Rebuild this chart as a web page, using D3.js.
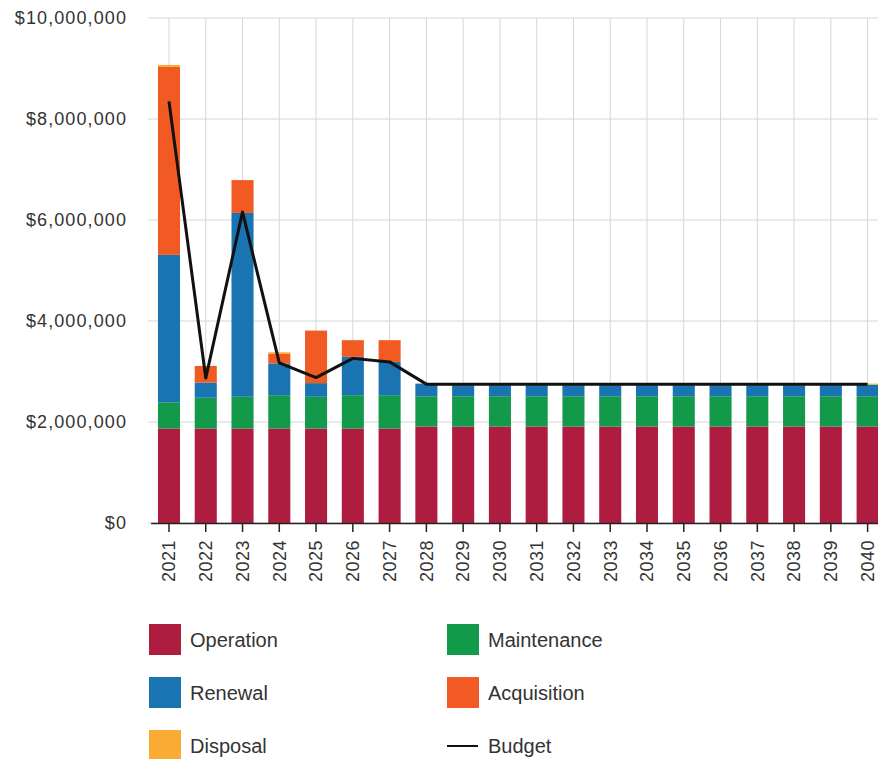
<!DOCTYPE html>
<html lang="en">
<head>
<meta charset="UTF-8">
<title>Lifecycle costs</title>
<script src="https://d3js.org/d3.v7.min.js"></script>
<style>
  html, body { margin: 0; background: #fff; overflow: hidden; }
  text { font-family: "Liberation Sans", Arial, sans-serif; fill: #333; }
</style>
</head>
<body>
<svg id="svg"></svg>
<script>
const years = d3.range(2021, 2041).map(String);

const operation   = [1870000, 1870000, 1870000, 1870000, 1870000, 1870000, 1870000,
                     1910000, 1910000, 1910000, 1910000, 1910000, 1910000, 1910000,
                     1910000, 1910000, 1910000, 1910000, 1910000, 1910000];
const maintenance = [520000, 610000, 630000, 660000, 630000, 660000, 660000,
                     600000, 600000, 600000, 600000, 600000, 600000, 600000,
                     600000, 600000, 600000, 600000, 600000, 600000];
const renewal     = [2920000, 300000, 3640000, 630000, 270000, 760000, 660000,
                     250000, 220000, 220000, 220000, 220000, 220000, 220000,
                     220000, 220000, 220000, 220000, 220000, 230000];
const acquisition = [3720000, 330000, 650000, 190000, 1040000, 330000, 430000,
                     0, 0, 0, 0, 0, 0, 0, 0, 0, 0, 0, 0, 0];
const disposal    = [40000, 0, 0, 30000, 0, 0, 0,
                     0, 20000, 20000, 20000, 20000, 20000, 20000,
                     20000, 20000, 20000, 20000, 20000, 20000];
const budget      = [8350000, 2870000, 6160000, 3170000, 2880000, 3260000, 3190000,
                     2750000, 2750000, 2750000, 2750000, 2750000, 2750000, 2750000,
                     2750000, 2750000, 2750000, 2750000, 2750000, 2750000];
const yTicks = [0, 2000000, 4000000, 6000000, 8000000, 10000000];

const seriesNames = ['Operation', 'Maintenance', 'Renewal', 'Acquisition', 'Disposal'];
const seriesValues = [operation, maintenance, renewal, acquisition, disposal];
const colors = ['#ae1d3f', '#12994a', '#1a74b1', '#f15a22', '#f9ab33'];

const width = 878, height = 759;
const svg = d3.select('#svg').attr('width', width).attr('height', height);

const margin = { top: 18, left: 150.6, bottom: 236 };
const plotBottom = height - margin.bottom;

const table = years.map((y, i) => {
    const row = { year: y };
    seriesNames.forEach((s, k) => row[s] = seriesValues[k][i]);
    return row;
});

const x = d3.scaleBand().domain(years).range([margin.left, 886]).paddingInner(0.4).paddingOuter(0.2);
const y = d3.scaleLinear().domain([0, 10000000]).range([plotBottom, margin.top]);
const color = d3.scaleOrdinal().domain(seriesNames).range(colors);

// grid
const grid = svg.append('g');
grid.selectAll('line.h').data(yTicks).join('line')
    .attr('x1', 148).attr('x2', width)
    .attr('y1', d => y(d)).attr('y2', d => y(d))
    .attr('stroke', '#d6d6d6').attr('stroke-width', 1);
grid.selectAll('line.v').data(years).join('line')
    .attr('x1', d => x(d) + x.bandwidth() / 2).attr('x2', d => x(d) + x.bandwidth() / 2)
    .attr('y1', margin.top).attr('y2', plotBottom)
    .attr('stroke', '#d6d6d6').attr('stroke-width', 1);

// stacked bars
const stacked = d3.stack().keys(seriesNames)(table);
svg.append('g').selectAll('g').data(stacked).join('g')
    .attr('fill', d => color(d.key))
    .selectAll('rect').data(d => d).join('rect')
    .attr('x', d => x(d.data.year))
    .attr('width', x.bandwidth())
    .attr('y', d => y(d[1]))
    .attr('height', d => y(d[0]) - y(d[1]));

// budget line
const line = d3.line()
    .x((d, i) => x(years[i]) + x.bandwidth() / 2)
    .y(d => y(d));
svg.append('path').datum(budget)
    .attr('d', line)
    .attr('fill', 'none').attr('stroke', '#111').attr('stroke-width', 3)
    .attr('stroke-linejoin', 'round');

// y axis labels
const fmt = d3.format(',');
svg.append('g').selectAll('text').data(yTicks).join('text')
    .attr('x', 127).attr('y', d => y(d))
    .attr('dy', '0.35em').attr('text-anchor', 'end')
    .attr('font-size', 18).attr('letter-spacing', 1.1)
    .text(d => '$' + fmt(d));

// x axis
const xAxis = svg.append('g')
    .attr('transform', `translate(0,${plotBottom})`)
    .call(d3.axisBottom(x).tickSize(9).tickSizeOuter(0));
xAxis.select('.domain').attr('stroke', '#222').attr('stroke-width', 1.5);
xAxis.selectAll('.tick line').attr('stroke', '#222').attr('stroke-width', 1.5);
xAxis.selectAll('.tick text')
    .attr('font-size', 18).attr('font-family', '"Liberation Sans", Arial, sans-serif')
    .attr('letter-spacing', 0.5)
    .attr('fill', '#333')
    .attr('transform', 'rotate(-90)')
    .attr('text-anchor', 'end')
    .attr('x', -17).attr('y', 0).attr('dy', '0.35em');

// legend
const legendItems = [
    { name: 'Operation', col: 0, row: 0 },
    { name: 'Maintenance', col: 1, row: 0 },
    { name: 'Renewal', col: 0, row: 1 },
    { name: 'Acquisition', col: 1, row: 1 },
    { name: 'Disposal', col: 0, row: 2 },
    { name: 'Budget', col: 1, row: 2, line: true }
];
const legend = svg.append('g').selectAll('g').data(legendItems).join('g')
    .attr('transform', d => `translate(${149 + d.col * 298},${624 + d.row * 53})`);
legend.filter(d => !d.line).append('rect')
    .attr('width', 32).attr('height', 31)
    .attr('fill', d => color(d.name));
legend.filter(d => d.line).append('line')
    .attr('x1', 0).attr('x2', 31).attr('y1', 16).attr('y2', 16)
    .attr('stroke', '#111').attr('stroke-width', 2);
legend.append('text')
    .attr('x', 41).attr('y', 16).attr('dy', '0.35em')
    .attr('font-size', 20)
    .text(d => d.name);
</script>
</body>
</html>
